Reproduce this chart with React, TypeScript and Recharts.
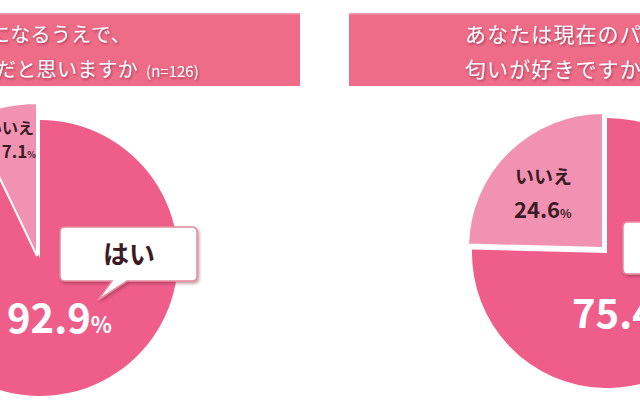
import { PieChart, Pie, Cell } from 'recharts';

// 回答データ (左: 質問1, 右: 質問2)
const answerNames = ['はい', 'いいえ'];
const leftValues = [92.9, 7.1];
const rightValues = [75.4, 24.6];
const leftTitle = ['になるうえで、', 'だと思いますか'];
const rightTitle = ['あなたは現在のパートナーの', '匂いが好きですか'];
const sampleNote = '(n=126)';

const MAIN = '#EF5E8A';
const LIGHT = '#F292B3';
const BAND = '#EE6C87';
const DARK = '#3c1c24';
const JP = '"Noto Sans CJK JP", "Noto Sans", sans-serif';

const toData = (values: number[]) =>
  answerNames.map((name, i) => ({ name, value: values[i] }));

const leftData = toData(leftValues);
const rightData = toData(rightValues);

const Percent = ({ x, y, value, size, color, anchor = 'start' }: any) => (
  <text x={x} y={y} textAnchor={anchor} fill={color} fontFamily={JP} fontWeight="bold" fontSize={size}>
    {value.toFixed(1)}
    <tspan fontSize={Math.round(size * 0.55)}>%</tspan>
  </text>
);

const Overlay = () => (
  <svg width={640} height={400} style={{ position: 'absolute', left: 0, top: 0, pointerEvents: 'none' }}>
    <defs>
      <filter id="txtShadow" x="-10%" y="-30%" width="120%" height="160%">
        <feDropShadow dx="1" dy="1.5" stdDeviation="0.8" floodColor="#7a2038" floodOpacity="0.6" />
      </filter>
      <filter id="boxShadow" x="-10%" y="-20%" width="130%" height="150%">
        <feDropShadow dx="1.5" dy="2" stdDeviation="1.5" floodColor="#7a2038" floodOpacity="0.45" />
      </filter>
    </defs>

    {/* 見出し帯 */}
    <rect x={-5} y={13} width={305} height={73} fill={BAND} />
    <rect x={-5} y={13} width={305} height={1.5} fill="#F59AAE" />
    <rect x={349} y={13} width={300} height={73} fill={BAND} />
    <rect x={349} y={13} width={300} height={1.5} fill="#F59AAE" />

    <g fill="#fff" fontFamily={JP} filter="url(#txtShadow)">
      <text x={-10} y={42} fontSize={20} style={{ letterSpacing: 0.3 }}>{leftTitle[0]}</text>
      <text x={-4} y={77} fontSize={20} style={{ letterSpacing: 0.3 }}>
        {leftTitle[1]}
        <tspan dx={8} fontSize={15} style={{ letterSpacing: 0 }}>{sampleNote}</tspan>
      </text>
      <text x={465} y={42} fontSize={21} style={{ letterSpacing: 1.1 }}>{rightTitle[0]}</text>
      <text x={465} y={77} fontSize={21} style={{ letterSpacing: 1.1 }}>{rightTitle[1]}</text>
    </g>

    {/* 左: いいえ ラベル */}
    <text x={34} y={134} textAnchor="end" fill={DARK} fontFamily={JP} fontWeight="bold" fontSize={16}>
      {answerNames[1]}
    </text>
    <Percent x={36} y={158} value={leftValues[1]} size={17} color={DARK} anchor="end" />

    {/* 左: はい 吹き出し */}
    <path
      d="M65,227 H192 Q197,227 197,232 V276 Q197,281 192,281 H127 L98,300 L112,281 H65 Q60,281 60,276 V232 Q60,227 65,227 Z"
      fill="#fff"
      stroke="#E58AA0"
      strokeWidth={1.5}
      filter="url(#boxShadow)"
    />
    <text x={129} y={264} textAnchor="middle" fill={DARK} fontFamily={JP} fontWeight="bold" fontSize={26}>
      {answerNames[0]}
    </text>
    <Percent x={7} y={333} value={leftValues[0]} size={40} color="#fff" />

    {/* 右: いいえ ラベル */}
    <text x={515} y={184} fill={DARK} fontFamily={JP} fontWeight="bold" fontSize={19}>
      {answerNames[1]}
    </text>
    <Percent x={514} y={218} value={rightValues[1]} size={22} color={DARK} />

    {/* 右: はい 吹き出し */}
    <path
      d="M628,222 H700 V274 H628 Q623,274 623,269 V227 Q623,222 628,222 Z"
      fill="#fff"
      stroke="#E58AA0"
      strokeWidth={1.5}
      filter="url(#boxShadow)"
    />
    <text x={672} y={258} textAnchor="middle" fill={DARK} fontFamily={JP} fontWeight="bold" fontSize={26}>
      {answerNames[0]}
    </text>
    <Percent x={572} y={328} value={rightValues[0]} size={40} color="#fff" />
  </svg>
);

export default function App() {
  return (
    <div style={{ position: 'absolute', left: 0, top: 0, width: 640, height: 400, background: '#fff', overflow: 'hidden' }}>
      <PieChart width={640} height={400} margin={{ top: 0, right: 0, bottom: 0, left: 0 }}>
        {/* 左: はい */}
        <Pie data={leftData} dataKey="value" cx={40} cy={258} outerRadius={138} startAngle={90} endAngle={-270} stroke="none" isAnimationActive={false}>
          <Cell fill={MAIN} />
          <Cell fill="none" />
        </Pie>
        {/* 左: いいえ (切り出し) */}
        <Pie data={leftData} dataKey="value" cx={37} cy={256} outerRadius={153} startAngle={90} endAngle={-270} stroke="none" isAnimationActive={false}>
          <Cell fill="none" />
          <Cell fill={LIGHT} stroke="#fff" strokeWidth={2} />
        </Pie>
        {/* 右: はい */}
        <Pie data={rightData} dataKey="value" cx={607} cy={253} outerRadius={135} startAngle={90} endAngle={-270} stroke="none" isAnimationActive={false}>
          <Cell fill={MAIN} />
          <Cell fill="none" />
        </Pie>
        {/* 右: いいえ (切り出し) */}
        <Pie data={rightData} dataKey="value" cx={603} cy={248} outerRadius={135} startAngle={90} endAngle={-270} stroke="none" isAnimationActive={false}>
          <Cell fill="none" />
          <Cell fill={LIGHT} stroke="#fff" strokeWidth={2} />
        </Pie>
      </PieChart>
      <Overlay />
    </div>
  );
}
